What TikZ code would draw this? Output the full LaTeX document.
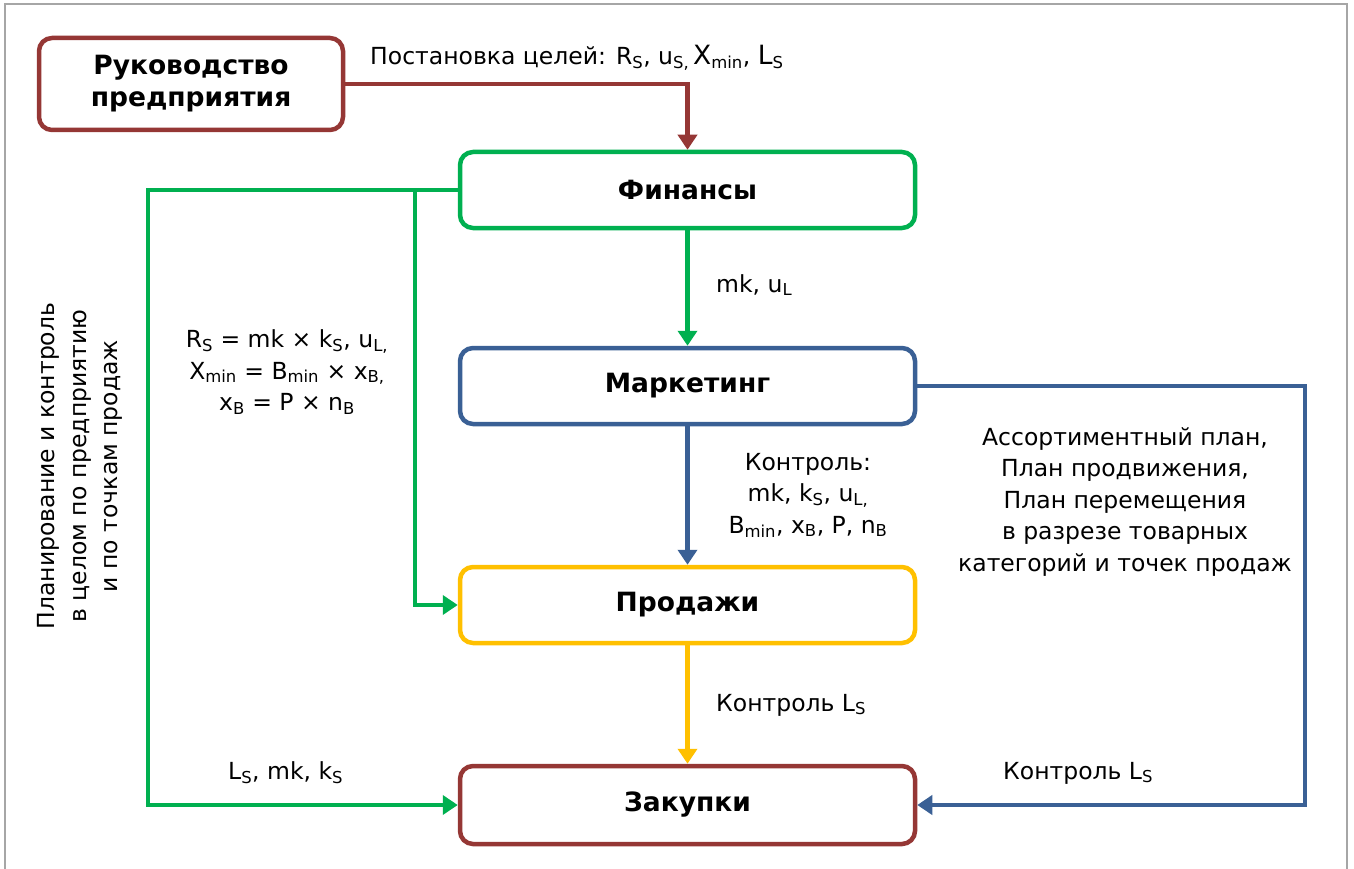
\documentclass[tikz,border=0pt]{standalone}
\usepackage{fontspec}
\setmainfont{DejaVu Sans}
\usetikzlibrary{arrows.meta}
\definecolor{cbrown}{HTML}{953735}
\definecolor{cgreen}{HTML}{00B050}
\definecolor{cblue}{HTML}{3A6095}
\definecolor{cyellow}{HTML}{FFC000}
\definecolor{cframe}{HTML}{A6A6A6}
\newcommand\lo[1]{\textsubscript{#1}}
\begin{document}
\begin{tikzpicture}[x=1pt,y=-1pt,
  box/.style={draw,line width=4.5pt,rounded corners=13pt,fill=white,align=center,
    font=\fontsize{26.5}{32}\selectfont\bfseries},
  conn/.style={line width=4.2pt,-{Triangle[length=15pt,width=19pt]}},
  lbl/.style={font=\fontsize{23.5}{31.5}\selectfont,align=center,inner sep=0pt}]
\useasboundingbox (0,0) rectangle (1354,869);
\draw[cframe,line width=2.5pt] (5,869) -- (5,4) -- (1347,4) -- (1347,869);
% nodes
\node[box,draw=cbrown,minimum width=304pt,minimum height=92pt] (ruk) at (191,84) {Руководство\\предприятия};
\node[box,draw=cgreen,minimum width=455pt,minimum height=76pt] (fin) at (687.5,190) {Финансы};
\node[box,draw=cblue,minimum width=455pt,minimum height=76pt] (mar) at (687.5,386) {Маркетинг};
\node[box,draw=cyellow,minimum width=455pt,minimum height=76pt] (pro) at (687.5,605) {Продажи};
\node[box,draw=cbrown,minimum width=455pt,minimum height=78pt] (zak) at (687.5,805) {Закупки};
% coordinates
\coordinate (gL) at (148,190);
\coordinate (gB) at (415,190);
\coordinate (bR) at (1305,386);
% connectors
\draw[conn,cbrown] (ruk.east) -| (fin.north);
\draw[conn,cgreen] (fin.south) -- (mar.north);
\draw[conn,cblue] (mar.south) -- (pro.north);
\draw[conn,cyellow] (pro.south) -- (zak.north);
\draw[conn,cgreen] (fin.west) -- (gL) |- (zak.west);
\draw[conn,cgreen] (gB) |- (pro.west);
\draw[conn,cblue] (mar.east) -- (bR) |- (zak.east);
% labels
\node[lbl,anchor=west] (l1) at (370,58) {Постановка целей: R\lo{S}, u\lo{S,}\,{\fontsize{26.5}{31}\selectfont X}\lo{min}, {\fontsize{26.5}{31}\selectfont L}\lo{S}};
\node[lbl,anchor=west] (l2) at (716,285) {mk, u\lo{L}};
\node[lbl] (l3) at (287,372) {R\lo{S} = mk × k\lo{S}, u\lo{L,}\\X\lo{min} = B\lo{min} × x\lo{B,}\\x\lo{B} = P × n\lo{B}};
\node[lbl] (l4) at (808,495) {Контроль:\\mk, k\lo{S}, u\lo{L,}\\B\lo{min}, x\lo{B}, P, n\lo{B}};
\node[lbl] (l5) at (1125,502) {Ассортиментный план,\\План продвижения,\\План перемещения\\в разрезе товарных\\категорий и точек продаж};
\node[lbl,anchor=west] (l6) at (716,705) {Контроль L\lo{S}};
\node[lbl,anchor=west] (l7) at (228,773) {L\lo{S}, mk, k\lo{S}};
\node[lbl,anchor=west] (l8) at (1003,773) {Контроль L\lo{S}};
\node[lbl,rotate=90] (l9) at (80,466) {Планирование и контроль\\в целом по предприятию\\и по точкам продаж};
\end{tikzpicture}
\end{document}
